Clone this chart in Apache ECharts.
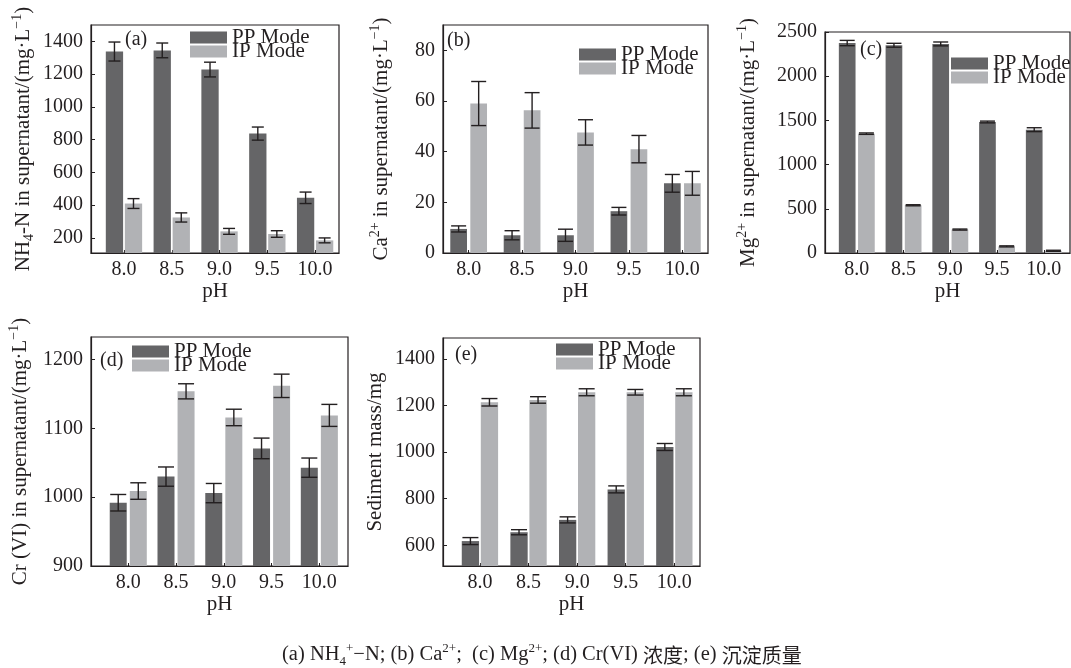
<!DOCTYPE html>
<html><head><meta charset="utf-8">
<script src="https://cdn.jsdelivr.net/npm/echarts@6/dist/echarts.min.js"></script>
<style>html,body{margin:0;padding:0;background:#fff}#c{width:1071px;height:668px}</style>
</head><body><div id="c"></div>
<script>
// ---------- data ----------
const pH = [8.0, 8.5, 9.0, 9.5, 10.0];
const modes = ['PP Mode', 'IP Mode'];
// (a) NH4+-N
const nh4PP = [1338, 1345, 1228, 837, 445];
const nh4PPErr = [58, 45, 45, 40, 35];
const nh4IP = [410, 325, 240, 224, 185];
const nh4IPErr = [30, 28, 18, 20, 15];
const nh4Ticks = [200, 400, 600, 800, 1000, 1200, 1400];
// (b) Ca2+
const caPP = [9.5, 7, 7, 16.5, 27.5];
const caPPErr = [1.2, 1.8, 2.4, 1.5, 3.5];
const caIP = [59, 56.3, 47.6, 41, 27.5];
const caIPErr = [8.7, 7, 5, 5.4, 4.7];
const caTicks = [0, 20, 40, 60, 80];
// (c) Mg2+
const mgPP = [2375, 2350, 2365, 1482, 1395];
const mgPPErr = [30, 22, 22, 10, 22];
const mgIP = [1350, 540, 265, 75, 25];
const mgIPErr = [8, 6, 6, 6, 6];
const mgTicks = [0, 500, 1000, 1500, 2000, 2500];
// (d) Cr(VI)
const crPP = [992, 1030, 1006, 1071, 1043];
const crPPErr = [12, 14, 14, 15, 14];
const crIP = [1009, 1154, 1116, 1162, 1119];
const crIPErr = [12, 11, 12, 17, 16];
const crTicks = [900, 1000, 1100, 1200];
// (e) Sediment mass
const sedPP = [618, 656, 709, 840, 1022];
const sedPPErr = [15, 11, 13, 15, 15];
const sedIP = [1214, 1224, 1257, 1257, 1257];
const sedIPErr = [16, 14, 15, 12, 15];
const sedTicks = [600, 800, 1000, 1200, 1400];

// ---------- layout & style ----------
const FONT = '"Liberation Serif", "Times New Roman", serif';
const TXT = '#231f20';
const C_PP = '#656567';
const C_IP = '#b1b2b5';

const rich = {
  n: {fontSize: 21, fontFamily: FONT, color: TXT, lineHeight: 26},
  sub: {fontSize: 14, fontFamily: FONT, color: TXT, lineHeight: 20, verticalAlign: 'bottom'},
  sup: {fontSize: 14, fontFamily: FONT, color: TXT, lineHeight: 20, verticalAlign: 'top'}
};

const panels = [
  {tag: '(a)', grid: {left: 91, top: 25, width: 248, height: 228}, x: [7.655, 10.25], y: [108, 1500], ticks: nh4Ticks,
   pp: nh4PP, ppErr: nh4PPErr, ip: nh4IP, ipErr: nh4IPErr, bw: 17.3, gap: 0.10, cap: 6,
   name: '{n|NH}{sub|4}{n|-N in supernatant/(mg·L}{sup|−1}{n|)}', nameGap: 55,
   leg: [190, 27], tagPos: [125, 30]},
  {tag: '(b)', grid: {left: 443, top: 25, width: 265, height: 228}, x: [7.76, 10.24], y: [0, 90], ticks: caTicks,
   pp: caPP, ppErr: caPPErr, ip: caIP, ipErr: caIPErr, bw: 16.7, gap: 0.20, cap: 7.5,
   name: '{n|Ca}{sup|2+}{n| in supernatant/(mg·L}{sup|−1}{n|)}', nameGap: 49,
   leg: [579, 44], tagPos: [447, 31]},
  {tag: '(c)', grid: {left: 825, top: 32, width: 245, height: 221}, x: [7.66, 10.28], y: [0, 2500], ticks: mgTicks,
   pp: mgPP, ppErr: mgPPErr, ip: mgIP, ipErr: mgIPErr, bw: 16.7, gap: 0.15, cap: 7.5,
   name: '{n|Mg}{sup|2+}{n| in supernatant/(mg·L}{sup|−1}{n|)}', nameGap: 64,
   leg: [951, 53], tagPos: [860, 40]},
  {tag: '(d)', grid: {left: 91, top: 337, width: 257, height: 229}, x: [7.61, 10.3], y: [900, 1233], ticks: crTicks,
   pp: crPP, ppErr: crPPErr, ip: crIP, ipErr: crIPErr, bw: 17, gap: 0.18, cap: 8,
   name: '{n|Cr (VI) in supernatant/(mg·L}{sup|−1}{n|)}', nameGap: 58,
   leg: [132, 341], tagPos: [100, 351]},
  {tag: '(e)', grid: {left: 443, top: 338, width: 257, height: 228}, x: [7.62, 10.264], y: [511, 1490], ticks: sedTicks,
   pp: sedPP, ppErr: sedPPErr, ip: sedIP, ipErr: sedIPErr, bw: 17.3, gap: 0.10, cap: 8,
   name: '{n|Sediment mass/mg}', nameGap: 55,
   leg: [556, 339], tagPos: [455, 345]}
];

const option = {
  backgroundColor: '#fff',
  animation: false,
  textStyle: {fontFamily: FONT, color: TXT},
  grid: [], xAxis: [], yAxis: [], series: [], legend: [], title: []
};

function errRender(p) {
  return function (params, api) {
    const x = api.value(0), v = api.value(1), e = api.value(2), side = api.value(3);
    const off = side * (p.bw * (1 + p.gap)) / 2;
    const t = api.coord([x, v + e]);
    const b = api.coord([x, v - e]);
    const cx = t[0] + off;
    const st = {stroke: '#231f20', lineWidth: 1.4};
    return {type: 'group', children: [
      {type: 'line', shape: {x1: cx, y1: t[1], x2: cx, y2: b[1]}, style: st},
      {type: 'line', shape: {x1: cx - p.cap, y1: t[1], x2: cx + p.cap, y2: t[1]}, style: st},
      {type: 'line', shape: {x1: cx - p.cap, y1: b[1], x2: cx + p.cap, y2: b[1]}, style: st}
    ]};
  };
}

panels.forEach((p, i) => {
  option.grid.push(Object.assign({show: true, borderColor: '#231f20', borderWidth: 1.2, backgroundColor: 'transparent'}, p.grid));
  option.xAxis.push({
    type: 'value', gridIndex: i, min: p.x[0], max: p.x[1],
    name: 'pH', nameLocation: 'middle', nameGap: 27,
    nameTextStyle: {fontSize: 21, fontFamily: FONT, color: TXT},
    axisLine: {onZero: false, lineStyle: {color: '#231f20', width: 1.2}},
    axisTick: {show: true, inside: true, length: 3, customValues: pH, lineStyle: {color: '#231f20'}},
    axisLabel: {customValues: pH, fontSize: 20, fontFamily: FONT, color: TXT, margin: 7,
                formatter: v => Number(v).toFixed(1)},
    splitLine: {show: false}
  });
  option.yAxis.push({
    type: 'value', gridIndex: i, min: p.y[0], max: p.y[1],
    name: p.name, nameLocation: 'middle', nameGap: p.nameGap, nameRotate: 90,
    nameTextStyle: {rich: rich},
    axisLine: {show: true, onZero: false, lineStyle: {color: '#231f20', width: 1.2}},
    axisTick: {show: true, inside: true, length: 4, customValues: p.ticks, lineStyle: {color: '#231f20'}},
    axisLabel: {customValues: p.ticks, fontSize: 20, fontFamily: FONT, color: TXT, margin: 8,
                formatter: v => String(Math.round(v))},
    splitLine: {show: false}
  });
  const ppData = pH.map((x, k) => [x, p.pp[k]]);
  const ipData = pH.map((x, k) => [x, p.ip[k]]);
  option.series.push({
    type: 'bar', name: modes[0], xAxisIndex: i, yAxisIndex: i, data: ppData,
    barWidth: p.bw, barGap: (p.gap * 100) + '%', itemStyle: {color: C_PP}
  });
  option.series.push({
    type: 'bar', name: modes[1], xAxisIndex: i, yAxisIndex: i, data: ipData,
    barWidth: p.bw, barGap: (p.gap * 100) + '%', itemStyle: {color: C_IP}
  });
  const errData = [];
  pH.forEach((x, k) => {
    errData.push([x, p.pp[k], p.ppErr[k], -1]);
    errData.push([x, p.ip[k], p.ipErr[k], 1]);
  });
  option.series.push({
    type: 'custom', name: 'err' + i, xAxisIndex: i, yAxisIndex: i, data: errData,
    renderItem: errRender(p), clip: false, z: 5, silent: true
  });
  modes.forEach((m, j) => {
    option.legend.push({
      data: [m], left: p.leg[0], top: p.leg[1] + j * 14, orient: 'vertical', padding: 0,
      itemWidth: 37, itemHeight: 12, itemGap: 0, icon: 'rect', selectedMode: false,
      textStyle: {fontSize: 21, fontFamily: FONT, color: TXT, lineHeight: 12}
    });
  });
  option.title.push({
    text: p.tag, left: p.tagPos[0], top: p.tagPos[1], padding: 0,
    textStyle: {fontSize: 20, fontWeight: 'normal', fontFamily: FONT, color: TXT}
  });
});

option.title.push({
  text: '{n|(a) NH}{sub|4}{sup|+}{n|−N; (b) Ca}{sup|2+}{n|;  (c) Mg}{sup|2+}{n|; (d) Cr(VI) }{cn|浓度}{n|; (e) }{cn|沉淀质量}',
  left: 282, top: 642, padding: 0,
  textStyle: {
    fontWeight: 'normal',
    rich: {
      n: {fontSize: 20.5, fontWeight: 'normal', fontFamily: FONT, color: TXT, lineHeight: 26},
      sub: {fontSize: 13, fontWeight: 'normal', fontFamily: FONT, color: TXT, lineHeight: 19, verticalAlign: 'bottom'},
      sup: {fontSize: 13, fontWeight: 'normal', fontFamily: FONT, color: TXT, lineHeight: 19, verticalAlign: 'top'},
      cn: {fontSize: 20, fontWeight: 'normal', fontFamily: '"Noto Sans CJK SC", sans-serif', color: TXT, lineHeight: 26}
    }
  }
});

const chart = echarts.init(document.getElementById('c'), null, {renderer: 'canvas'});
chart.setOption(option);
</script>
</body></html>
